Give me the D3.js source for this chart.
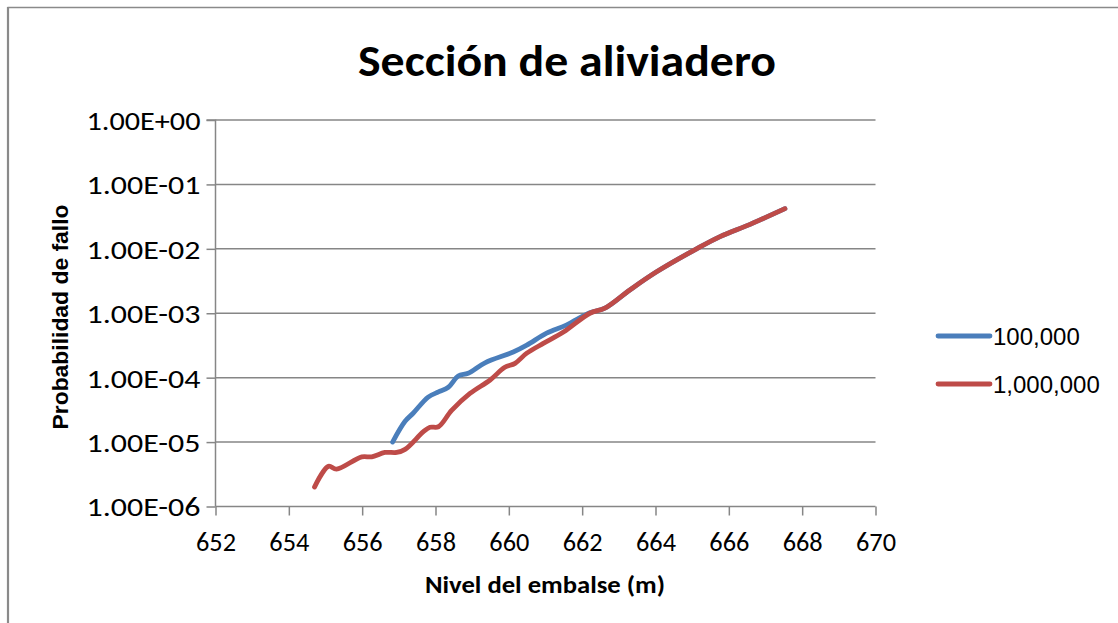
<!DOCTYPE html>
<html><head><meta charset="utf-8">
<script src="https://cdn.jsdelivr.net/npm/d3@7"></script>
<style>html,body{margin:0;padding:0;background:#fff;}svg{display:block;}</style>
</head><body>
<svg id="c" width="1118" height="623"></svg>
<script>
// ---- data ----
const seriesNames = ["100,000", "1,000,000"];
const seriesColors = ["#4A7EBB", "#BE4B48"];
const levels100k = [656.83, 657.17, 657.39, 657.8, 658.08, 658.35, 658.62, 658.89, 659.35, 660.12, 660.49, 661.03, 661.58, 662.21, 662.62, 663.3, 664.03, 665.12, 665.76, 666.58, 667.53];
const probs100k  = [1.0e-5, 2.1e-5, 2.8e-5, 5.0e-5, 6.0e-5, 7.1e-5, 1.06e-4, 1.17e-4, 1.7e-4, 2.5e-4, 3.2e-4, 4.9e-4, 6.6e-4, 1.02e-3, 1.2e-3, 2.3e-3, 4.4e-3, 1.0e-2, 1.55e-2, 2.4e-2, 4.2e-2];
const levels1m = [654.7, 655.08, 655.3, 655.99, 656.26, 656.62, 656.94, 657.17, 657.67, 657.85, 658.08, 658.44, 658.94, 659.49, 659.89, 660.17, 660.49, 660.94, 661.49, 662.21, 662.62, 663.3, 664.03, 665.12, 665.76, 666.58, 667.53];
const probs1m  = [2.0e-6, 4.2e-6, 3.8e-6, 5.9e-6, 5.9e-6, 6.9e-6, 6.9e-6, 7.7e-6, 1.45e-5, 1.7e-5, 1.73e-5, 3.1e-5, 5.7e-5, 9.2e-5, 1.45e-4, 1.67e-4, 2.4e-4, 3.4e-4, 5.1e-4, 1.0e-3, 1.2e-3, 2.3e-3, 4.4e-3, 1.0e-2, 1.55e-2, 2.4e-2, 4.2e-2];
const xTicks = [652, 654, 656, 658, 660, 662, 664, 666, 668, 670];
const yTicks = [1, 1e-1, 1e-2, 1e-3, 1e-4, 1e-5, 1e-6];
const yTickLabels = ["1.00E+00", "1.00E-01", "1.00E-02", "1.00E-03", "1.00E-04", "1.00E-05", "1.00E-06"];
const titleText = "Sección de aliviadero";
const xTitle = "Nivel del embalse (m)";
const yTitle = "Probabilidad de fallo";

// ---- layout ----
const svg = d3.select("#c");
const L = 215.5, R = 875.5, T = 120, B = 506.5;
const x = d3.scaleLinear().domain([652, 670]).range([L, R]);
const y = d3.scaleLog().domain([1e-6, 1]).range([B, T]);
const grid = "#868686";
const calibri = "Carlito, Calibri, Lato, sans-serif";
const arial = "'Liberation Sans', Arial, sans-serif";

// chart border
svg.append("line").attr("x1", 7.5).attr("x2", 1118).attr("y1", 7.5).attr("y2", 7.5).attr("stroke", "#8a8a8a").attr("stroke-width", 1.3);
svg.append("line").attr("x1", 8).attr("x2", 8).attr("y1", 7).attr("y2", 623).attr("stroke", "#8a8a8a").attr("stroke-width", 2.2);

// title
svg.append("text").attr("x", 567).attr("y", 76).attr("text-anchor", "middle")
  .attr("font-family", calibri).attr("font-weight", "bold").attr("font-size", 45)
  .attr("textLength", 418).attr("lengthAdjust", "spacingAndGlyphs")
  .text(titleText);

// gridlines
svg.append("g").selectAll("line").data(yTicks.slice(0, 6)).join("line")
  .attr("x1", L).attr("x2", R).attr("y1", d => y(d)).attr("y2", d => y(d))
  .attr("stroke", grid).attr("stroke-width", 1.5);

// y axis
const yAxis = d3.axisLeft(y).tickValues(yTicks).tickSize(9).tickFormat((d, i) => yTickLabels[i]).tickPadding(6);
const gy = svg.append("g").attr("transform", `translate(${L},0)`).call(yAxis);
gy.select(".domain").attr("stroke", grid).attr("stroke-width", 1.5).attr("d", `M-9,${T}H0V${B}`);
gy.selectAll(".tick line").attr("stroke", grid).attr("stroke-width", 1.5);
gy.selectAll(".tick text").attr("font-family", calibri).attr("font-size", 26).attr("fill", "#000")
  .attr("dy", "0.36em").attr("x", -15).attr("textLength", 114).attr("lengthAdjust", "spacingAndGlyphs");

// x axis
const xAxis = d3.axisBottom(x).tickValues(xTicks).tickSize(9).tickPadding(17).tickFormat(d3.format("d"));
const gx = svg.append("g").attr("transform", `translate(0,${B})`).call(xAxis);
gx.select(".domain").attr("stroke", grid).attr("stroke-width", 1.5).attr("d", `M${L},0H${R}`);
gx.selectAll(".tick line").attr("stroke", grid).attr("stroke-width", 1.5);
gx.selectAll(".tick text").attr("font-family", calibri).attr("font-size", 26).attr("fill", "#000")
  .attr("textLength", 40).attr("lengthAdjust", "spacingAndGlyphs");

// axis titles
svg.append("text").attr("x", 545).attr("y", 593).attr("text-anchor", "middle")
  .attr("font-family", calibri).attr("font-weight", "bold").attr("font-size", 24)
  .attr("textLength", 240).attr("lengthAdjust", "spacingAndGlyphs").text(xTitle);
svg.append("text").attr("transform", "translate(68,317) rotate(-90)").attr("text-anchor", "middle")
  .attr("font-family", arial).attr("font-weight", "bold").attr("font-size", 22)
  .attr("textLength", 225).attr("lengthAdjust", "spacingAndGlyphs").text(yTitle);

// lines
const line = d3.line().x(d => x(d[0])).y(d => y(d[1])).curve(d3.curveCatmullRom.alpha(0.5));
const data = [
  d3.zip(levels100k, probs100k),
  d3.zip(levels1m, probs1m)
];
data.forEach((pts, i) => {
  svg.append("path").datum(pts).attr("d", line).attr("fill", "none")
    .attr("stroke", seriesColors[i]).attr("stroke-width", 4.8)
    .attr("stroke-linecap", "round").attr("stroke-linejoin", "round");
});

// legend
const legY = [336, 384];
seriesNames.forEach((n, i) => {
  svg.append("line").attr("x1", 938).attr("x2", 990).attr("y1", legY[i]).attr("y2", legY[i])
    .attr("stroke", seriesColors[i]).attr("stroke-width", 4.8).attr("stroke-linecap", "round");
  svg.append("text").attr("x", 993).attr("y", legY[i]).attr("dy", "0.36em")
    .attr("font-family", arial).attr("font-size", 24).text(n);
});
</script>
</body></html>
